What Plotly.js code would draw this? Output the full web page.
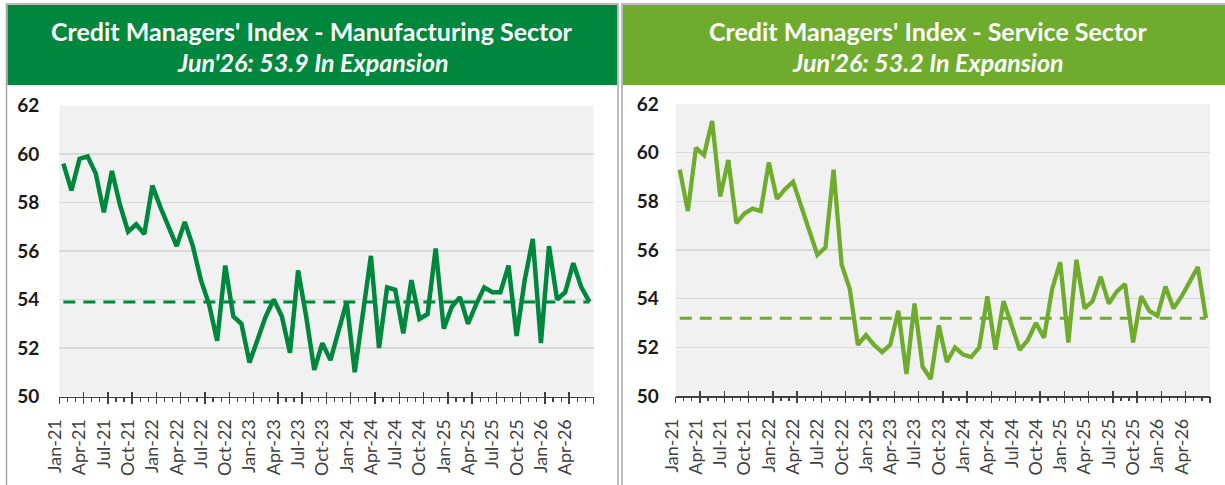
<!DOCTYPE html>
<html>
<head>
<meta charset="utf-8">
<script src="https://cdn.plot.ly/plotly-3.0.1.min.js"></script>
<style>html,body{margin:0;padding:0;background:#fff;}#chart{width:1225px;height:485px;}</style>
</head>
<body>
<div id="chart"></div>
<script>
const months = ["Jan-21","Feb-21","Mar-21","Apr-21","May-21","Jun-21","Jul-21","Aug-21","Sep-21","Oct-21","Nov-21","Dec-21",
"Jan-22","Feb-22","Mar-22","Apr-22","May-22","Jun-22","Jul-22","Aug-22","Sep-22","Oct-22","Nov-22","Dec-22",
"Jan-23","Feb-23","Mar-23","Apr-23","May-23","Jun-23","Jul-23","Aug-23","Sep-23","Oct-23","Nov-23","Dec-23",
"Jan-24","Feb-24","Mar-24","Apr-24","May-24","Jun-24","Jul-24","Aug-24","Sep-24","Oct-24","Nov-24","Dec-24",
"Jan-25","Feb-25","Mar-25","Apr-25","May-25","Jun-25","Jul-25","Aug-25","Sep-25","Oct-25","Nov-25","Dec-25",
"Jan-26","Feb-26","Mar-26","Apr-26","May-26","Jun-26"];

const manufacturing = [59.6,58.5,59.8,59.9,59.2,57.6,59.3,57.9,56.8,57.1,56.7,58.7,
57.8,57.0,56.2,57.2,56.2,54.8,53.8,52.3,55.4,53.3,53.0,51.4,
52.3,53.3,54.0,53.3,51.8,55.2,53.3,51.1,52.2,51.5,52.7,53.9,
51.0,53.3,55.8,52.0,54.5,54.4,52.6,54.8,53.2,53.4,56.1,52.8,
53.7,54.1,53.0,53.8,54.5,54.3,54.3,55.4,52.5,54.8,56.5,52.2,
56.2,54.0,54.3,55.5,54.5,53.9];

const service = [59.3,57.6,60.2,59.9,61.3,58.2,59.7,57.1,57.5,57.7,57.6,59.6,
58.1,58.5,58.8,57.8,56.9,55.8,56.1,59.3,55.4,54.4,52.1,52.5,
52.1,51.8,52.1,53.5,50.9,53.8,51.2,50.7,52.9,51.4,52.0,51.7,
51.6,52.0,54.1,51.9,53.9,52.9,51.9,52.3,53.0,52.4,54.4,55.5,
52.2,55.6,53.6,53.9,54.9,53.8,54.3,54.6,52.2,54.1,53.5,53.3,
54.5,53.6,54.1,54.7,55.3,53.2];

const titles = ["Credit Managers' Index - Manufacturing Sector", "Credit Managers' Index - Service Sector"];
const subtitles = ["Jun'26: 53.9 In Expansion", "Jun'26: 53.2 In Expansion"];
const yTicks = [50,52,54,56,58,60,62];

const mfgColor = "#00873E";
const svcColor = "#6FAC2E";
const W = 1225, H = 485;
const px = v => v / W;
const py = v => 1 - v / H;

const tickLabels = months.filter((m, i) => i % 3 === 0);
const monthIndex = months.map((m, i) => i);
const last = months.length - 1;

function ghost(xa, ya, ys) {
  // invisible copy of a series on the linear tick-carrying axis, so that axis is drawn
  return {x: monthIndex, y: ys, xaxis: xa, yaxis: ya, mode: 'lines', line: {width: 0, color: 'rgba(0,0,0,0)'}, opacity: 0, hoverinfo: 'skip'};
}

const traces = [
  {x: months, y: manufacturing, xaxis: 'x', yaxis: 'y', mode: 'lines', line: {color: mfgColor, width: 4.5}, hoverinfo: 'x+y'},
  {x: [months[0], months[last]], y: [manufacturing[last], manufacturing[last]], xaxis: 'x', yaxis: 'y', mode: 'lines', line: {color: mfgColor, width: 3, dash: '12px,8px'}, hoverinfo: 'skip'},
  {x: months, y: service, xaxis: 'x2', yaxis: 'y2', mode: 'lines', line: {color: svcColor, width: 4.3}, hoverinfo: 'x+y'},
  {x: [months[0], months[last]], y: [service[last], service[last]], xaxis: 'x2', yaxis: 'y2', mode: 'lines', line: {color: svcColor, width: 3, dash: '12px,8px'}, hoverinfo: 'skip'},
  ghost('x3', 'y', manufacturing),
  ghost('x4', 'y', manufacturing),
  ghost('x5', 'y2', service),
  ghost('x6', 'y2', service)
];

function catAxis(domain, anchor) {
  return {
    domain: domain, anchor: anchor, type: 'category', range: [-0.5, months.length - 0.5],
    tickmode: 'array', tickvals: tickLabels, ticktext: tickLabels, tickangle: -90,
    ticks: '', showgrid: false, zeroline: false,
    showline: true, linecolor: '#404040', linewidth: 1.5,
    tickfont: {family: 'Lato, sans-serif', size: 18, color: '#404040'},
    ticklabelshift: -8, ticklabelstandoff: 14, fixedrange: true
  };
}
function tickAxis(over, anchor, side) {
  const a = {
    overlaying: over, anchor: anchor, type: 'linear', range: [-0.5, months.length - 0.5],
    tickmode: 'linear', tick0: -0.5, dtick: 3, ticks: side, ticklen: side === 'outside' ? 6 : 5,
    tickwidth: 1.5, tickcolor: '#404040', showticklabels: false, showgrid: false,
    zeroline: false, showline: false, fixedrange: true
  };
  if (side === 'outside') {
    a.minor = {tickmode: 'linear', tick0: -0.5, dtick: 1, ticks: 'outside', ticklen: 4, tickwidth: 1.2, tickcolor: '#404040', showgrid: false};
  }
  return a;
}
function valAxis(domain, anchor, standoff) {
  return {
    domain: domain, anchor: anchor, range: [50, 62], tickmode: 'array', tickvals: yTicks,
    showgrid: true, gridcolor: '#d9d9d9', gridwidth: 1.5, zeroline: false, showline: false, ticks: '',
    tickfont: {family: 'Lato, sans-serif', size: 19, color: '#1a1a1a', weight: 'bold'},
    ticklabelstandoff: standoff, fixedrange: true
  };
}

const layout = {
  width: W, height: H,
  margin: {l: 0, r: 0, t: 0, b: 0},
  paper_bgcolor: '#ffffff', plot_bgcolor: '#f1f1f1',
  showlegend: false,
  xaxis: catAxis([px(59.3), px(593.5)], 'y'),
  yaxis: valAxis([py(396.5), py(105.5)], 'x', 19),
  xaxis2: catAxis([px(675.7), px(1210)], 'y2'),
  yaxis2: valAxis([py(396), py(104)], 'x2', 16),
  xaxis3: tickAxis('x', 'y', 'outside'),
  xaxis4: tickAxis('x', 'y', 'inside'),
  xaxis5: tickAxis('x2', 'y2', 'outside'),
  xaxis6: tickAxis('x2', 'y2', 'inside'),
  shapes: [
    {type: 'rect', xref: 'paper', yref: 'paper', x0: px(6.5), x1: px(618), y0: py(490), y1: py(4), line: {color: '#a6a6a6', width: 1.5}, fillcolor: 'rgba(0,0,0,0)', layer: 'below'},
    {type: 'rect', xref: 'paper', yref: 'paper', x0: px(622), x1: px(1240), y0: py(490), y1: py(4), line: {color: '#a6a6a6', width: 1.5}, fillcolor: 'rgba(0,0,0,0)', layer: 'below'},
    {type: 'rect', xref: 'paper', yref: 'paper', x0: px(7.5), x1: px(617), y0: py(85), y1: py(5), line: {width: 0}, fillcolor: mfgColor, layer: 'below'},
    {type: 'rect', xref: 'paper', yref: 'paper', x0: px(623), x1: px(1240), y0: py(85), y1: py(5), line: {width: 0}, fillcolor: svcColor, layer: 'below'}
  ],
  annotations: [
    {xref: 'paper', yref: 'paper', x: px(312), y: py(31), text: titles[0], showarrow: false, xanchor: 'center', yanchor: 'middle', font: {family: 'Lato, sans-serif', size: 25, color: '#ffffff', weight: 'bold'}},
    {xref: 'paper', yref: 'paper', x: px(313), y: py(62), text: subtitles[0], showarrow: false, xanchor: 'center', yanchor: 'middle', font: {family: 'Lato, sans-serif', size: 25, color: '#ffffff', weight: 'bold', style: 'italic'}},
    {xref: 'paper', yref: 'paper', x: px(928), y: py(31), text: titles[1], showarrow: false, xanchor: 'center', yanchor: 'middle', font: {family: 'Lato, sans-serif', size: 25, color: '#ffffff', weight: 'bold'}},
    {xref: 'paper', yref: 'paper', x: px(928), y: py(62), text: subtitles[1], showarrow: false, xanchor: 'center', yanchor: 'middle', font: {family: 'Lato, sans-serif', size: 25, color: '#ffffff', weight: 'bold', style: 'italic'}}
  ]
};

Plotly.newPlot('chart', traces, layout, {displayModeBar: false, staticPlot: true});
</script>
</body>
</html>
